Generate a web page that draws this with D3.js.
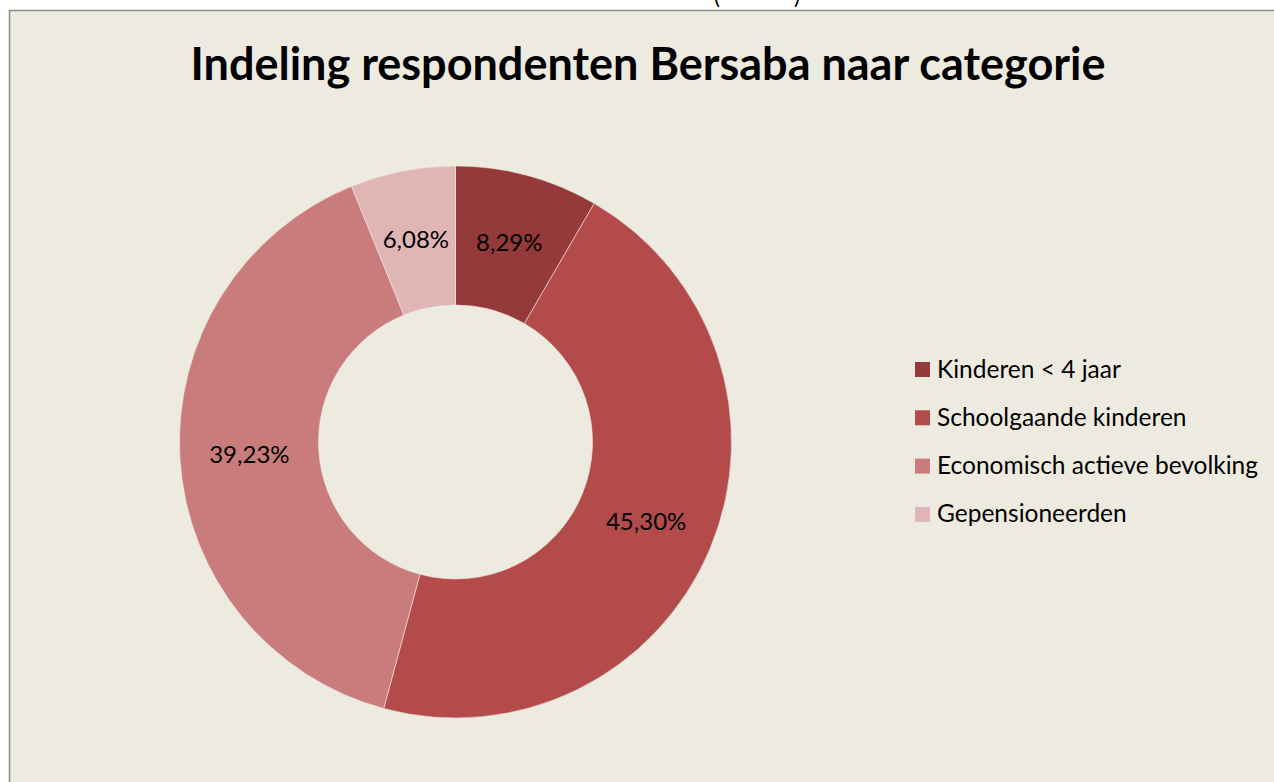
<!DOCTYPE html>
<html>
<head>
<meta charset="utf-8">
<script src="https://cdn.jsdelivr.net/npm/d3@7"></script>
<style>
  html, body { margin: 0; padding: 0; background: #ffffff; overflow: hidden; }
  svg { display: block; }
</style>
</head>
<body>
<div id="chart"></div>
<script>
const categories = ['Kinderen < 4 jaar', 'Schoolgaande kinderen', 'Economisch actieve bevolking', 'Gepensioneerden'];
const values = [8.29, 45.30, 39.23, 6.08];
const labels = ['8,29%', '45,30%', '39,23%', '6,08%'];
const colours = ['#953a3a', '#b24b4a', '#c97c7b', '#dfb5b5'];
const title = 'Indeling respondenten Bersaba naar categorie';

const width = 1274;
const height = 782;

const svg = d3.select('#chart')
  .append('svg')
  .attr('width', width)
  .attr('height', height);

// clipped caption text above the chart frame (only the bottoms of the brackets show)
svg.append('text')
  .attr('x', 717)
  .attr('y', 4)
  .attr('text-anchor', 'middle')
  .style('font-family', 'Lato, sans-serif')
  .style('font-size', '22px')
  .attr('fill', '#000')
  .text('(');
svg.append('text')
  .attr('x', 797)
  .attr('y', 4)
  .attr('text-anchor', 'middle')
  .style('font-family', 'Lato, sans-serif')
  .style('font-size', '22px')
  .attr('fill', '#000')
  .text(')');

// chart area
svg.append('rect')
  .attr('x', 9.5)
  .attr('y', 10.5)
  .attr('width', width)
  .attr('height', height)
  .attr('fill', '#edebe0')
  .attr('stroke', '#8c8c8c')
  .attr('stroke-width', 1.5);

svg.append('text')
  .attr('x', 648)
  .attr('y', 80)
  .attr('text-anchor', 'middle')
  .style('font-family', 'Lato, sans-serif')
  .style('font-weight', 'bold')
  .style('font-size', '45px')
  .attr('fill', '#000')
  .text(title);

// donut
const cx = 455.5;
const cy = 442;
const outer = 276;
const inner = 137;

const pie = d3.pie().sort(null).value((d) => d);
const arcs = pie(values);
const arc = d3.arc().innerRadius(inner).outerRadius(outer);

const g = svg.append('g')
  .attr('transform', `translate(${cx},${cy})`);

g.selectAll('path.slice')
  .data(arcs)
  .enter()
  .append('path')
  .attr('class', 'slice')
  .attr('d', arc)
  .attr('fill', (d, i) => colours[i])
  .attr('stroke', '#f0e6e0')
  .attr('stroke-width', 0.6);

g.selectAll('text.lbl')
  .data(arcs)
  .enter()
  .append('text')
  .attr('class', 'lbl')
  .attr('transform', (d) => `translate(${arc.centroid(d)})`)
  .attr('text-anchor', 'middle')
  .attr('dy', '0.35em')
  .style('font-family', 'Lato, sans-serif')
  .style('font-size', '24px')
  .attr('fill', '#000')
  .text((d, i) => labels[i]);

// legend
const legend = svg.append('g')
  .attr('transform', 'translate(915,369)');

const row = legend.selectAll('g.row')
  .data(categories)
  .enter()
  .append('g')
  .attr('class', 'row')
  .attr('transform', (d, i) => `translate(0,${i * 48.3})`);

row.append('rect')
  .attr('x', 0)
  .attr('y', -7)
  .attr('width', 15)
  .attr('height', 15)
  .attr('fill', (d, i) => colours[i]);

row.append('text')
  .attr('x', 22)
  .attr('y', 0)
  .attr('dy', '0.35em')
  .style('font-family', 'Lato, sans-serif')
  .style('font-size', '24.5px')
  .attr('fill', '#000')
  .text((d) => d);
</script>
</body>
</html>
